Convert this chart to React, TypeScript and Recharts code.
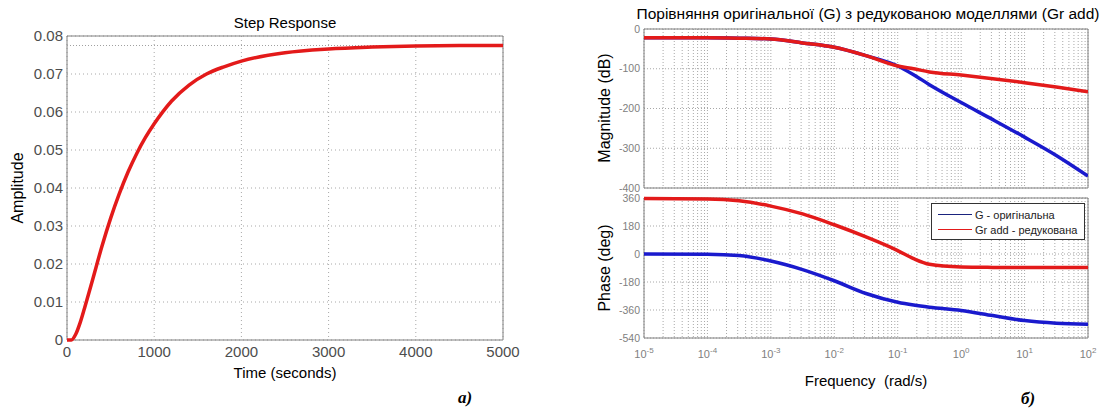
import React from "react"
import { LineChart, Line, XAxis, YAxis, CartesianGrid, ReferenceArea, ReferenceLine } from "recharts"

// step response (a)
const stepTime = [0, 50, 100, 150, 200, 250, 300, 400, 500, 600, 700, 800, 900, 1000, 1100, 1200, 1400, 1600, 1800, 2000, 2500, 3000, 3500, 4000, 4500, 5000]
const stepAmplitude = [0, 0, 0.0015, 0.0045, 0.0083, 0.0123, 0.0164, 0.0246, 0.032, 0.0385, 0.0442, 0.0491, 0.0533, 0.0569, 0.0601, 0.0629, 0.0671, 0.07, 0.0719, 0.0734, 0.0756, 0.0766, 0.0771, 0.0774, 0.0775, 0.0775]
const steadyState = 0.0775
const ampTicks = [0, 0.01, 0.02, 0.03, 0.04, 0.05, 0.06, 0.07, 0.08]
const timeTicks = [0, 1000, 2000, 3000, 4000, 5000]

// bode comparison (б)
const frequency = [1e-5, 1e-4, 3.16e-4, 1e-3, 3.16e-3, 1e-2, 3.16e-2, 1e-1, 1.78e-1, 3.16e-1, 1, 3.16, 10, 31.6, 100]
const magG = [-22, -22, -23, -25, -35, -46, -67, -93, -115, -140, -185, -228, -272, -318, -370]
const magGr = [-22, -22, -23, -25, -35, -46, -67, -93, -100, -108, -116, -125, -135, -146, -158]
const phaseG = [0, -1, -10, -45, -100, -172, -254, -310, -328, -342, -363, -396, -428, -445, -451]
const phaseGr = [356, 354, 342, 308, 258, 188, 110, 22, -30, -66, -83, -86, -87, -87, -87]
const magTicks = [-400, -300, -200, -100, 0]
const phaseTicks = [-540, -360, -180, 0, 180, 360]
const decades = [-5, -4, -3, -2, -1, 0, 1]

const freqTicks = [...decades.flatMap(d => [1, 2, 3, 4, 5, 6, 7, 8, 9].map(k => k * Math.pow(10, d))), 100]

const RED = "#e31a1a"
const BLUE = "#1a1acd"
const FONT = "'Liberation Sans', Arial, sans-serif"

const stepData = stepTime.map((t, i) => ({ t, amp: stepAmplitude[i] }))
const bodeData = frequency.map((w, i) => ({ w, magG: magG[i], magGr: magGr[i], phaseG: phaseG[i], phaseGr: phaseGr[i] }))

function LogTick({ x, y, payload }: any) {
  const p = Math.log10(payload.value)
  if (Math.abs(p - Math.round(p)) > 1e-6) return <g />
  return (
    <text x={x} y={y + 16} textAnchor="middle" fill="#808080" fontSize={11} fontFamily={FONT}>
      10<tspan dy={-5} fontSize={8}>{Math.round(p)}</tspan>
    </text>
  )
}

function Caption({ x, y, size = 15, rotate = false, children, style }: any) {
  return (
    <div
      style={{
        position: "absolute", left: x, top: y, fontSize: size, fontFamily: FONT, whiteSpace: "pre",
        transform: `translate(-50%, -50%)${rotate ? " rotate(-90deg)" : ""}`, lineHeight: 1, color: "#000", ...style,
      }}
    >
      {children}
    </div>
  )
}

const gridStyle = { stroke: "#a8a8a8", strokeDasharray: "1 3" }

export default function App() {
  return (
    <div style={{ position: "absolute", left: 0, top: 0, width: 1109, height: 408, background: "#fff", overflow: "hidden" }}>
      {/* a) step response */}
      <div style={{ position: "absolute", left: 0, top: 0 }}>
        <LineChart width={520} height={408} data={stepData} margin={{ top: 36, right: 17, bottom: 38, left: 27 }}>
          <CartesianGrid {...gridStyle} />
          <XAxis dataKey="t" type="number" domain={[0, 5000]} ticks={timeTicks} interval={0} height={30}
            axisLine={false} tickLine={false} tickSize={4}
            tick={{ fill: "#4d4d4d", fontSize: 15, fontFamily: FONT }} />
          <YAxis type="number" domain={[0, 0.08]} ticks={ampTicks} interval={0} width={40}
            axisLine={false} tickLine={false} tickSize={2}
            tickFormatter={(v: number) => (v === 0 ? "0" : v.toFixed(2))}
            tick={{ fill: "#4d4d4d", fontSize: 15, fontFamily: FONT }} />
          <ReferenceLine y={steadyState} stroke="#a0a0a0" strokeDasharray="1 2" />
          <ReferenceArea x1={0} x2={5000} y1={0} y2={0.08} fill="none" stroke="#808080" />
          <Line dataKey="amp" type="monotone" stroke={RED} strokeWidth={3.5} dot={false} isAnimationActive={false} />
        </LineChart>
      </div>
      <Caption x={285} y={22}>Step Response</Caption>
      <Caption x={285} y={372}>Time (seconds)</Caption>
      <Caption x={18} y={188} size={16} rotate>Amplitude</Caption>
      <Caption x={465} y={397} size={17} style={{ fontFamily: "'Liberation Serif', serif", fontWeight: "bold", fontStyle: "italic" }}>а)</Caption>

      {/* б) magnitude */}
      <div style={{ position: "absolute", left: 560, top: 0 }}>
        <LineChart width={549} height={200} data={bodeData} margin={{ top: 29, right: 21, bottom: 12, left: 44 }}>
          <CartesianGrid {...gridStyle} strokeDasharray="1 2" />
          <XAxis dataKey="w" type="number" scale="log" domain={[1e-5, 100]} ticks={freqTicks} interval={0} allowDataOverflow hide />
          <YAxis type="number" domain={[-400, 0]} ticks={magTicks} interval={0} width={40}
            axisLine={false} tickLine={false} tickSize={2}
            tick={{ fill: "#808080", fontSize: 10.5, fontFamily: FONT }} />
          <ReferenceArea x1={1e-5} x2={100} y1={-400} y2={0} fill="none" stroke="#808080" />
          <Line dataKey="magG" type="monotone" stroke={BLUE} strokeWidth={3.5} dot={false} isAnimationActive={false} />
          <Line dataKey="magGr" type="monotone" stroke={RED} strokeWidth={3.5} dot={false} isAnimationActive={false} />
        </LineChart>
      </div>

      {/* б) phase */}
      <div style={{ position: "absolute", left: 560, top: 180 }}>
        <LineChart width={549} height={228} data={bodeData} margin={{ top: 18, right: 21, bottom: 50, left: 44 }}>
          <CartesianGrid {...gridStyle} strokeDasharray="1 2" />
          <XAxis dataKey="w" type="number" scale="log" domain={[1e-5, 100]} ticks={freqTicks} interval={0} allowDataOverflow
            height={20} axisLine={false} tickLine={false} tickSize={2} tick={<LogTick />} />
          <YAxis type="number" domain={[-540, 360]} ticks={phaseTicks} interval={0} width={40}
            axisLine={false} tickLine={false} tickSize={2}
            tick={{ fill: "#808080", fontSize: 10.5, fontFamily: FONT }} />
          <ReferenceArea x1={1e-5} x2={100} y1={-540} y2={360} fill="none" stroke="#808080" />
          <Line dataKey="phaseG" type="monotone" stroke={BLUE} strokeWidth={3.5} dot={false} isAnimationActive={false} />
          <Line dataKey="phaseGr" type="monotone" stroke={RED} strokeWidth={3.5} dot={false} isAnimationActive={false} />
        </LineChart>
      </div>

      <div style={{ position: "absolute", left: 931, top: 203, width: 152, height: 35, border: "1px solid #333", background: "#fff",
        fontFamily: FONT, fontSize: 11, color: "#222" }}>
        {[{ c: "#1a237e", t: "G - оригінальна" }, { c: RED, t: "Gr add - редукована" }].map((r, i) => (
          <div key={i} style={{ position: "absolute", left: 6, top: 4 + i * 15, height: 13, display: "flex", alignItems: "center", whiteSpace: "nowrap" }}>
            <span style={{ display: "inline-block", width: 34, height: 0, borderTop: `1px solid ${r.c}`, marginRight: 3 }} />
            {r.t}
          </div>
        ))}
      </div>

      <Caption x={868} y={14} size={15.5}>Порівняння оригінальної (G) з редукованою моделлями (Gr add)</Caption>
      <Caption x={605} y={108} size={16} rotate>Magnitude (dB)</Caption>
      <Caption x={605} y={268} size={16} rotate>Phase (deg)</Caption>
      <Caption x={866} y={380}>{"Frequency  (rad/s)"}</Caption>
      <Caption x={1028} y={398} size={17} style={{ fontFamily: "'Liberation Serif', serif", fontWeight: "bold", fontStyle: "italic" }}>б)</Caption>
    </div>
  )
}
